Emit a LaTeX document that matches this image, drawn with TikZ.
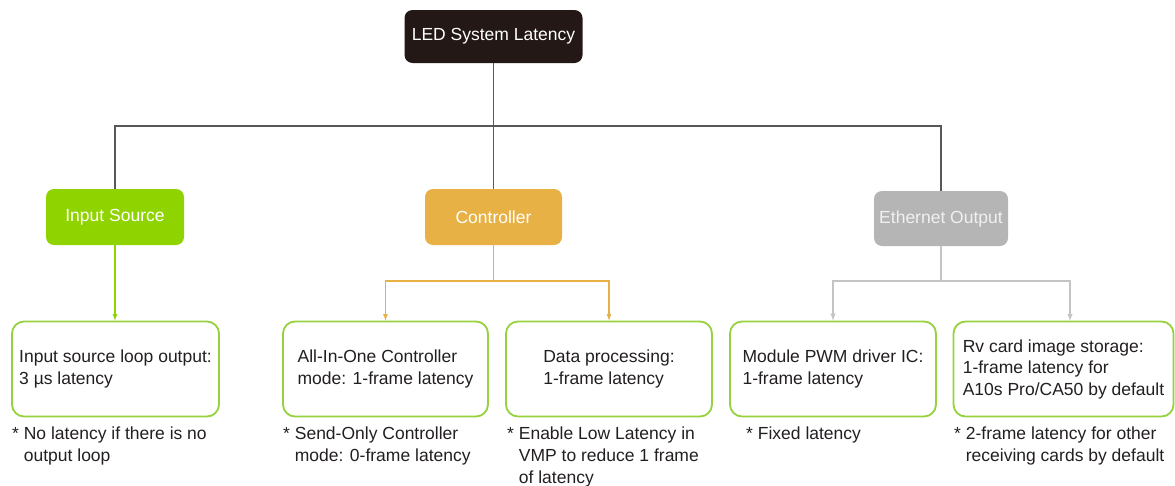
\documentclass[tikz,border=0pt]{standalone}
\usepackage{fontspec}
\setmainfont{Liberation Sans}
\usepackage{tikz}
\usetikzlibrary{positioning}

\definecolor{topdark}{HTML}{231815}
\definecolor{ingreen}{HTML}{8FD400}
\definecolor{ctrlorange}{HTML}{E8B146}
\definecolor{ethgray}{HTML}{B4B5B4}
\definecolor{boxgreen}{HTML}{95D23E}
\definecolor{treegray}{HTML}{595757}
\definecolor{linegray}{HTML}{C4C4C4}
\definecolor{notetext}{HTML}{231F20}

\begin{document}
\begin{tikzpicture}[x=1pt, y=-1pt, font=\fontsize{17.5}{21.5}\selectfont,
    head/.style={rounded corners=8pt, text=white, inner sep=0pt, minimum height=54pt},
    latbox/.style={draw=boxgreen, line width=1.8pt, rounded corners=12pt, fill=white,
        align=left, inner sep=4pt, minimum width=205pt, minimum height=95pt, text=notetext},
    note/.style={anchor=north west, align=left, inner sep=0pt, text=notetext,
        font=\fontsize{17.5}{22}\selectfont},
    tree/.style={draw=treegray, line width=1.4pt}]
            \useasboundingbox (0,0) rectangle (1175,485);

            % Nodes
            \node[head, fill=topdark, minimum width=178pt, minimum height=53pt] (LED) at (493.5,36.5) {LED System Latency};
            \node[head, fill=ingreen, minimum width=138pt, minimum height=56pt] (In) at (115,217) {Input Source};
            \node[head, fill=ctrlorange, minimum width=137pt, minimum height=56pt] (Ctrl) at (493.5,217) {Controller};
            \node[head, fill=ethgray, text=white!94!black, minimum width=134pt, minimum height=55pt] (Eth) at (941,218.5) {Ethernet Output};

            \node[latbox, minimum width=207pt] (Loop) at (115.5,369) {Input source loop output:\\3 µs latency};
            \node[latbox] (AIO) at (385.5,369) {All-In-One Controller\\mode: 1-frame latency};
            \node[latbox, minimum width=206pt] (Proc) at (609,369) {Data processing:\\1-frame latency};
            \node[latbox, minimum width=206pt] (PWM) at (833,369) {Module PWM driver IC:\\1-frame latency};
            \node[latbox, minimum width=220pt] (Rv) at (1063.5,369) {Rv card image storage:\\1-frame latency for\\A10s Pro/CA50 by default};

            \node[note] (nLoop) at (12,427) {* No latency if there is no\\\phantom{* }output loop};
            \node[note] (nAIO) at (283,427) {* Send-Only Controller\\\phantom{* }mode: 0-frame latency};
            \node[note] (nProc) at (507,427) {* Enable Low Latency in\\\phantom{* }VMP to reduce 1 frame\\\phantom{* }of latency};
            \node[note] (nPWM) at (746,427) {* Fixed latency};
            \node[note] (nRv) at (954,427) {* 2-frame latency for other\\\phantom{* }receiving cards by default};

            \coordinate (hub) at (493.5,126);
            \coordinate (cj) at (493.5,281);
            \coordinate (ej) at (941,281);
            \coordinate (RvIn) at (1070,321);

            % Lines
            \draw[tree] (LED.south) -- (Ctrl.north);
            \draw[tree] (In.north) |- (hub) -| (Eth.north);

            \draw[draw=ingreen, line width=1.2pt, -latex] (In.south) -- (In.south |- Loop.north);

            \draw[draw=ctrlorange, line width=1.2pt] (Ctrl.south) -- (cj);
            \draw[draw=ctrlorange, line width=1.2pt, -latex] (cj) -| (AIO.north);
            \draw[draw=ctrlorange, line width=1.2pt, -latex] (cj) -| (Proc.north);

            \draw[draw=linegray, line width=1.4pt] (Eth.south) -- (ej);
            \draw[draw=linegray, line width=1.4pt, -latex] (ej) -| (PWM.north);
            \draw[draw=linegray, line width=1.4pt, -latex] (ej) -| (RvIn);
        \end{tikzpicture}
\end{document}
